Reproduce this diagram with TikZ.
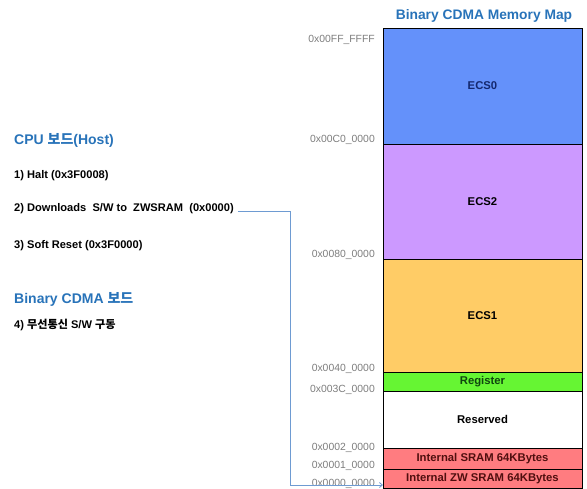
\documentclass[tikz,border=0pt]{standalone}
\usepackage{fontspec}
\setmainfont{Liberation Sans}
\newfontfamily\kr{Noto Sans CJK KR}
\usetikzlibrary{arrows.meta}
\definecolor{titleblue}{RGB}{40,115,185}
\definecolor{ecszero}{RGB}{100,145,250}
\definecolor{ecstwo}{RGB}{204,153,255}
\definecolor{ecsone}{RGB}{255,204,102}
\definecolor{reggreen}{RGB}{102,245,51}
\definecolor{srampink}{RGB}{255,124,128}
\definecolor{addrgray}{RGB}{125,125,125}
\definecolor{linkblue}{RGB}{110,155,210}
\definecolor{navytext}{RGB}{20,40,110}
\definecolor{greentext}{RGB}{15,70,15}
\definecolor{redtext}{RGB}{80,15,15}
\tikzset{
  region/.style={draw=black, line width=0.8pt, minimum width=199pt, inner sep=0pt, anchor=north west, outer sep=0pt},
  regtext/.style={font=\fontsize{11.3}{13}\selectfont\bfseries},
  addr/.style={anchor=east, text=addrgray, font=\fontsize{10.4}{12}\selectfont, inner sep=0pt},
  item/.style={anchor=west, font=\fontsize{11.1}{13}\selectfont\bfseries, inner sep=0pt},
  heading/.style={anchor=west, text=titleblue, font=\fontsize{14}{16}\selectfont\bfseries, inner sep=0pt},
  link/.style={draw=linkblue, line width=0.8pt, -{Straight Barb[length=3pt,width=5pt]}}
}
\begin{document}
\begin{tikzpicture}[x=1pt,y=-1pt]
\useasboundingbox (0,0) rectangle (587,488);
% title
\node[text=titleblue, font=\fontsize{13.8}{15}\selectfont\bfseries, inner sep=0pt] (title) at (484,16) {Binary CDMA Memory Map};
% memory regions
\node[region, fill=ecszero, minimum height=116pt] (ecs0) at (383,28) {};
\node[regtext, text=navytext] at (ecs0.center) {ECS0};
\node[region, fill=ecstwo, minimum height=115pt] (ecs2) at (383,144) {};
\node[regtext] at (ecs2.center) {ECS2};
\node[region, fill=ecsone, minimum height=113pt] (ecs1) at (383,259) {};
\node[regtext] at (ecs1.center) {ECS1};
\node[region, fill=reggreen, minimum height=19pt] (reg) at (383,372) {};
\node[regtext, text=greentext] at (reg.center) {Register};
\node[region, fill=white, minimum height=57pt] (res) at (383,391) {};
\node[regtext] at (res.center) {Reserved};
\node[region, fill=srampink, minimum height=21pt] (sram) at (383,448) {};
\node[regtext, text=redtext] at (sram.center) {Internal SRAM 64KBytes};
\node[region, fill=srampink, minimum height=19pt] (zwsram) at (383,469) {};
\node[regtext, text=redtext] at (zwsram.center) {Internal ZW SRAM 64KBytes};
% addresses
\node[addr] (a1) at (375,40) {0x00FF\_FFFF};
\node[addr] (a2) at (375,140) {0x00C0\_0000};
\node[addr] (a3) at (375,255) {0x0080\_0000};
\node[addr] (a4) at (375,369) {0x0040\_0000};
\node[addr] (a5) at (375,390) {0x003C\_0000};
\node[addr] (a6) at (375,448) {0x0002\_0000};
\node[addr] (a7) at (375,466) {0x0001\_0000};
\node[addr] (a8) at (375,484) {0x0000\_0000};
% left text
\node[heading] (cpu) at (14,140) {CPU {\kr 보드}(Host)};
\node[item] (s1) at (14,176) {1) Halt (0x3F0008)};
\node[item] (s2) at (14,209) {2) Downloads\ \ S/W to\ \ ZWSRAM\ \ (0x0000)};
\node[item] (s3) at (14,246) {3) Soft Reset\ (0x3F0000)};
\node[heading] (bcdma) at (14,299) {Binary CDMA {\kr 보드}};
\node[item] (s4) at (14,325) {4) {\kr 무선통신} S/W {\kr 구동}};
% connector
\coordinate (c1) at (290,211);
\coordinate (c2) at (290,485);
\draw[link] ([xshift=4pt]s2.east |- c1) -- (c1) -- (c2) -- (zwsram.west |- c2);
\end{tikzpicture}
\end{document}
